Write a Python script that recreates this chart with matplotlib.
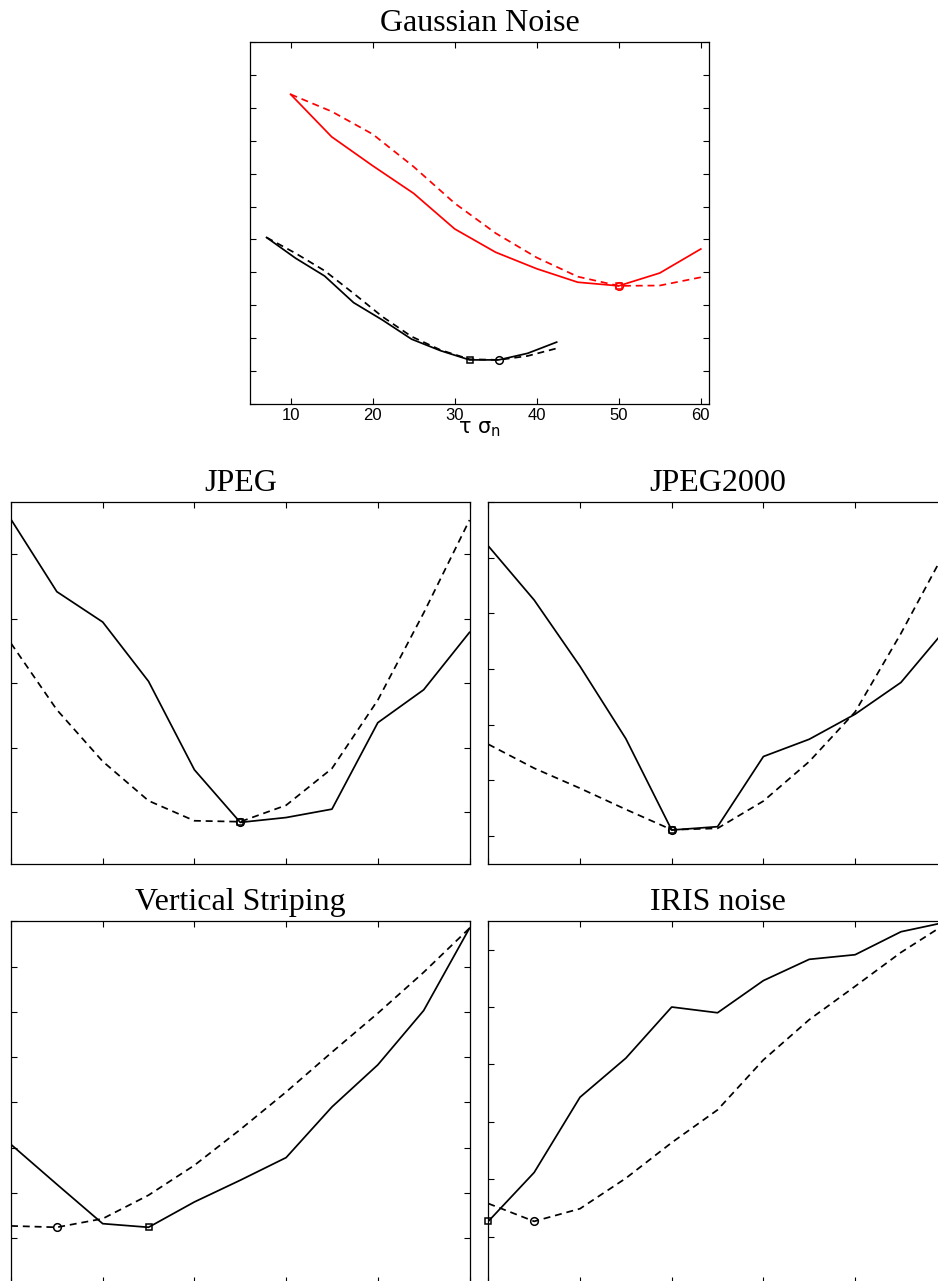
import numpy as np
import matplotlib
matplotlib.use('Agg')
import matplotlib.pyplot as plt

plt.rcParams['mathtext.fontset'] = 'dejavusans'
plt.rcParams['mathtext.default'] = 'regular'

# Gaussian noise : courbes rouges et noires
red_x = [10, 15, 20, 25, 30, 35, 40, 45, 50, 55, 60]
red_solid = [9.41, 8.12, 7.24, 6.40, 5.32, 4.61, 4.11, 3.70, 3.59, 3.98, 4.71]
red_dashed = [9.41, 8.89, 8.20, 7.21, 6.10, 5.19, 4.45, 3.87, 3.59, 3.60, 3.85]

black_x = [7.07, 10.61, 14.14, 17.68, 21.21, 24.75, 28.28, 31.82, 35.36, 38.89, 42.43]
black_solid = [5.06, 4.43, 3.89, 3.08, 2.55, 1.97, 1.62, 1.34, 1.34, 1.54, 1.88]
black_dashed = [5.06, 4.58, 4.05, 3.36, 2.65, 2.05, 1.64, 1.36, 1.34, 1.46, 1.69]

# autres degradations
steps = [0, 0.5, 1.0, 1.5, 2.0, 2.5, 3.0, 3.5, 4.0, 4.5, 5.0]

jpeg_solid = [5.54, 4.42, 3.95, 3.03, 1.66, 0.845, 0.92, 1.05, 2.39, 2.90, 3.79]
jpeg_dashed = [3.62, 2.59, 1.79, 1.18, 0.87, 0.855, 1.11, 1.68, 2.74, 4.09, 5.53]

j2k_solid = [6.21, 5.24, 4.05, 2.75, 1.11, 1.17, 2.43, 2.74, 3.19, 3.76, 4.74]
j2k_dashed = [2.65, 2.22, 1.86, 1.48, 1.115, 1.14, 1.63, 2.34, 3.23, 4.64, 6.17]

vs_solid = [3.07, 2.19, 1.32, 1.24, 1.80, 2.28, 2.78, 3.90, 4.83, 6.03, 7.85]
vs_dashed = [1.27, 1.24, 1.43, 1.95, 2.61, 3.40, 4.23, 5.11, 5.97, 6.875, 7.85]

iris_solid = [1.27, 2.12, 3.43, 4.11, 5.00, 4.90, 5.46, 5.83, 5.91, 6.31, 6.48]
iris_dashed = [1.58, 1.27, 1.49, 2.02, 2.64, 3.21, 4.08, 4.78, 5.36, 5.95, 6.46]

LW = 1.25
DASH = (4.0, 2.8)


def draw(ax, x, solid, dashed, color='k'):
    ax.plot(x, solid, '-', color=color, lw=LW)
    ax.plot(x, dashed, '--', color=color, lw=LW, dashes=DASH)
    i = int(np.argmin(solid))
    j = int(np.argmin(dashed))
    ax.plot(x[i], solid[i], 's', color=color, mfc='none', ms=5, mew=1.1, clip_on=False)
    ax.plot(x[j], dashed[j], 'o', color=color, mfc='none', ms=5.5, mew=1.1, clip_on=False)


def style(ax, title):
    ax.set_title(title, fontsize=23, family='Liberation Serif', pad=8)
    ax.tick_params(direction='in', top=True, right=True, length=4, width=0.8,
                   labelleft=False, labelbottom=False)
    for s in ax.spines.values():
        s.set_linewidth(0.9)


fig = plt.figure(figsize=(9.38, 12.81), dpi=100)

W = 458.5 / 938
H = 362 / 1281

# graphique du haut
ax0 = fig.add_axes([250 / 938, 1 - 404 / 1281, 459 / 938, H])
draw(ax0, red_x, red_solid, red_dashed, color='red')
draw(ax0, black_x, black_solid, black_dashed)
ax0.set_xlim(5.05, 61)
ax0.set_ylim(0, 11)
ax0.set_xticks([10, 20, 30, 40, 50, 60])
ax0.set_yticks(range(0, 12))
style(ax0, 'Gaussian Noise')
ax0.tick_params(labelbottom=True, labelsize=12, labelfontfamily='Liberation Sans', pad=3)
ax0.set_xlabel(r'$\tau\ \sigma_n$', fontsize=15, labelpad=-3)

panels = [
    ('JPEG', 11, 864, jpeg_solid, jpeg_dashed, (0.2, 5.81)),
    ('JPEG2000', 488.3, 864, j2k_solid, j2k_dashed, (0.5, 7.0)),
    ('Vertical Striping', 11, 1283.4, vs_solid, vs_dashed, (0, 8)),
    ('IRIS noise', 488.3, 1283.4, iris_solid, iris_dashed, (0.19, 6.49)),
]

for title, left, bottom, solid, dashed, ylim in panels:
    ax = fig.add_axes([left / 938, 1 - bottom / 1281, W, H])
    draw(ax, steps, solid, dashed)
    ax.set_xlim(0, 5)
    ax.set_xticks(range(0, 6))
    ax.set_yticks(range(0, 9))
    ax.set_ylim(*ylim)
    style(ax, title)

fig.savefig('out.png', dpi=100)
